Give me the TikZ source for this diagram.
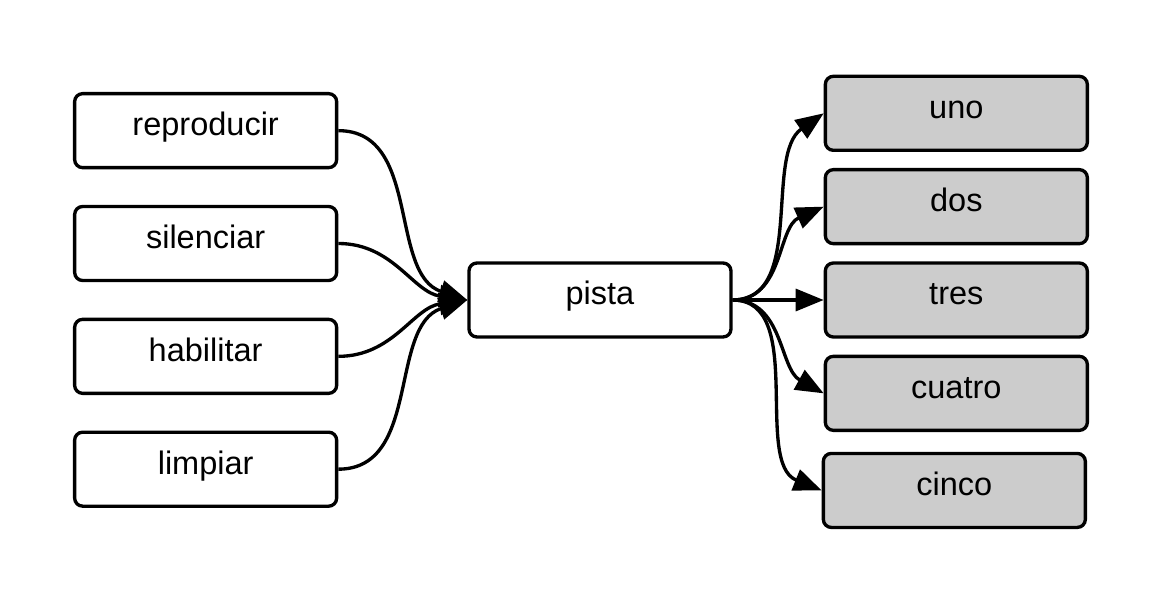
\documentclass[tikz,border=0pt]{standalone}
\usepackage{fontspec}
\setmainfont{Liberation Sans}
\usepackage{tikz}
\usetikzlibrary{positioning, arrows.meta}

\begin{document}
\begin{tikzpicture}[line width=1.9pt, >={Triangle[length=5.6mm,width=4.4mm]},
	main/.style = {draw, rounded corners=1.6mm, minimum width=5.24cm, minimum height=1.48cm,
		text height=0.5cm, text depth=0.3cm, font=\fontsize{18.5}{22}\selectfont},
	shaded/.style = {main, fill=black!20}]
	\useasboundingbox (-12,-6.04) rectangle (11.26,6);
	\node[main] (1) at (0,0) {pista};
	\node[main] (2) [left=2.58cm of 1, yshift=1.13cm] {silenciar};
	\node[main] (3) [above=0.71cm of 2] {reproducir};
	\node[main] (4) [below=0.71cm of 2] {habilitar};
	\node[main] (5) [below=0.71cm of 4] {limpiar};
	\node[shaded] (6) [right=1.82cm of 1] {tres};
	\node[shaded] (7) [above=0.32cm of 6] {dos};
	\node[shaded] (8) [above=0.32cm of 7] {uno};
	\node[shaded] (9) [below=0.32cm of 6] {cuatro};
	\node[shaded] (10) [below=0.395cm of 9, xshift=-0.04cm] {cinco};
	
	\draw[->] (3.east) to[out=0, in=162] (1.west);
	\draw[->] (2.east) to[out=0, in=172] (1.west);
	\draw[->] (4.east) to[out=0, in=188] (1.west);
	\draw[->] (5.east) to[out=0, in=198] (1.west);
	\draw[->] (1.east) to[out=0, in=215, looseness=0.9] (8.west);
	\draw[->] (1.east) to[out=0, in=204] (7.west);
	\draw[->] (1.east) -- (6.west);
	\draw[->] (1.east) to[out=0, in=151] (9.west);
	\draw[->] (1.east) to[out=0, in=158, looseness=0.9] (10.west);
\end{tikzpicture}
\end{document}
